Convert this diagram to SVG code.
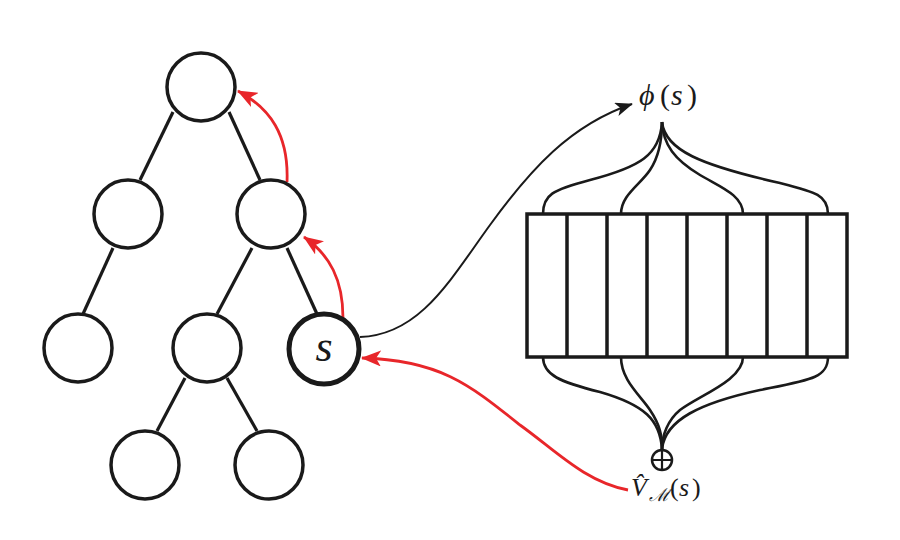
<svg xmlns="http://www.w3.org/2000/svg" width="900" height="540" viewBox="0 0 900 540">
<defs>
<style>
.node{fill:#fff;stroke:#1a1a1a;stroke-width:3.5}
.edge{stroke:#1a1a1a;stroke-width:3.2;fill:none}
.fan{stroke:#1a1a1a;stroke-width:2.6;fill:none}
.red{stroke:#e8262a;stroke-width:2.8;fill:none}
.blk{stroke:#1a1a1a;stroke-width:2;fill:none}
.lbl{font-family:"Liberation Serif",serif;fill:#1a1a1a}
</style>
<marker id="ar" viewBox="0 0 20 16" refX="19" refY="8" markerWidth="20" markerHeight="16" markerUnits="userSpaceOnUse" orient="auto">
<path d="M0,0 L20,8 L0,16 L5,8 z" fill="#e8262a"/>
</marker>
<marker id="ab" viewBox="0 0 20 16" refX="19" refY="8" markerWidth="18" markerHeight="14" markerUnits="userSpaceOnUse" orient="auto">
<path d="M0,0 L20,8 L0,16 L5,8 z" fill="#1a1a1a"/>
</marker>
</defs>
<rect width="900" height="540" fill="#fff"/>

<g id="connectors">
<line class="edge" x1="173" y1="112" x2="140" y2="180"/>
<line class="edge" x1="229" y1="112" x2="260" y2="180"/>
<line class="edge" x1="113" y1="248" x2="83" y2="314"/>
<line class="edge" x1="252" y1="248" x2="217" y2="314"/>
<line class="edge" x1="287" y1="248" x2="317" y2="314"/>
<line class="edge" x1="185" y1="378" x2="157" y2="431"/>
<line class="edge" x1="227" y1="378" x2="257" y2="431"/>
<path class="red" d="M287,182 C289,135 270,108 238,91" marker-end="url(#ar)"/>
<path class="red" d="M343,318 C343,280 330,255 304,237" marker-end="url(#ar)"/>
<path class="red" d="M628,490 C585,482 555,450 520,425 C470,385 440,360 362,358" marker-end="url(#ar)"/>
<path class="blk" d="M360,337 C420,335 450,280 490,225 C530,170 570,125 632,104" marker-end="url(#ab)"/>
<path class="fan" d="M543,214 C543,195 552,190 590,180 C640,167 660,155 662,122"/>
<path class="fan" d="M621,214 C621,195 640,185 650,170 C658,158 662,140 662,122"/>
<path class="fan" d="M743,214 C743,195 720,187 700,175 C675,160 663,145 662,122"/>
<path class="fan" d="M828,214 C828,195 815,192 780,183 C700,165 665,150 662,122"/>
<path class="fan" d="M543,357 C543,375 560,382 600,392 C645,405 660,420 662,449"/>
<path class="fan" d="M621,357 C621,380 640,395 650,410 C660,425 662,435 662,449"/>
<path class="fan" d="M743,357 C743,380 700,395 680,410 C668,420 662,435 662,449"/>
<path class="fan" d="M828,357 C828,378 810,380 760,390 C700,403 665,420 662,449"/>
</g>

<g id="n-root"><circle class="node" cx="201" cy="87" r="34"/></g>
<g id="n-l2a"><circle class="node" cx="128" cy="214" r="34"/></g>
<g id="n-l2b"><circle class="node" cx="271" cy="214" r="34"/></g>
<g id="n-l3a"><circle class="node" cx="78" cy="348" r="34"/></g>
<g id="n-l3b"><circle class="node" cx="207" cy="348" r="34"/></g>
<g id="n-s"><circle class="node" cx="324" cy="349" r="35" style="stroke-width:5"/>
<text class="lbl" x="324" y="361" font-size="44" font-style="italic" text-anchor="middle">s</text></g>
<g id="n-l4a"><circle class="node" cx="145" cy="465" r="34"/></g>
<g id="n-l4b"><circle class="node" cx="269" cy="465" r="34"/></g>

<g id="n-features">
<rect x="527" y="214" width="320" height="143" fill="#fff" stroke="#1a1a1a" stroke-width="3.5"/>
<path d="M567,214V357M607,214V357M647,214V357M687,214V357M727,214V357M767,214V357M807,214V357" stroke="#1a1a1a" stroke-width="3.5"/>
</g>

<g id="n-phi">
<text class="lbl" y="105" font-size="30"><tspan x="639" font-style="italic">ϕ</tspan><tspan x="660">(</tspan><tspan x="671" font-style="italic">s</tspan><tspan x="687">)</tspan></text>
</g>

<g id="n-sum">
<circle cx="662" cy="460" r="10" fill="#fff" stroke="#1a1a1a" stroke-width="2.5"/>
<path d="M652,460H672M662,450V470" stroke="#1a1a1a" stroke-width="2.2"/>
<text class="lbl" y="496" font-size="26"><tspan x="631" font-style="italic">V̂</tspan><tspan x="649" y="501" font-size="18" font-style="italic">ℳ</tspan><tspan x="670" y="496">(</tspan><tspan x="679" font-style="italic">s</tspan><tspan x="692">)</tspan></text>
</g>
</svg>
